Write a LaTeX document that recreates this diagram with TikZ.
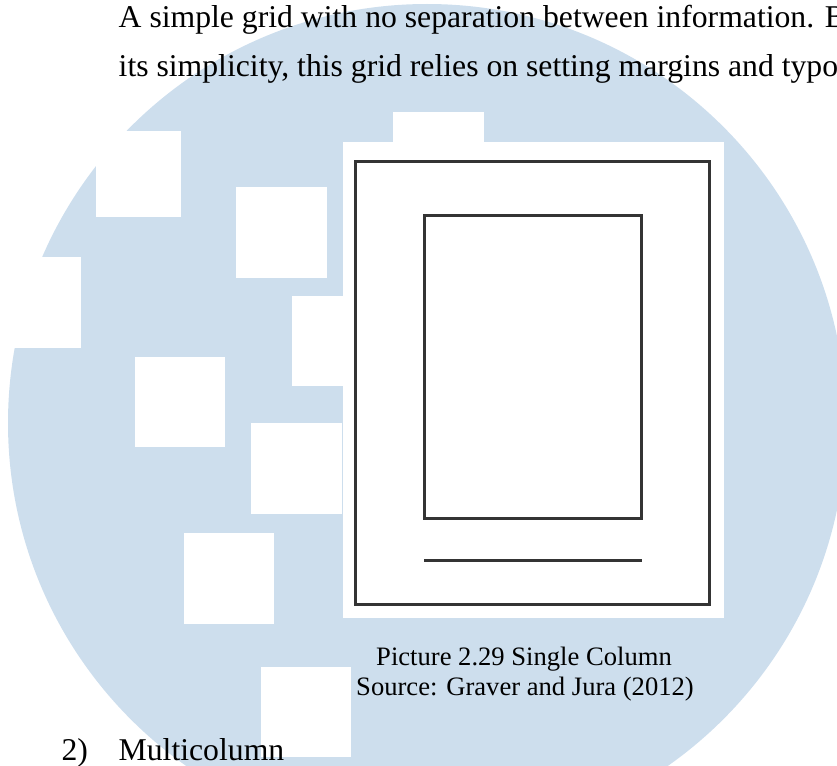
\documentclass[tikz,border=0pt]{standalone}
\usepackage{fontspec}
\setmainfont{Liberation Serif}
\definecolor{wmblue}{RGB}{205,222,237}
\definecolor{ink}{RGB}{52,52,52}
\begin{document}
\begin{tikzpicture}[x=1pt,y=-1pt,
  body/.style={inner sep=0pt, anchor=base west, font=\fontsize{31.7}{38}\selectfont},
  capt/.style={inner sep=0pt, anchor=base, font=\fontsize{26.6}{32}\selectfont},
  gap/.style={fill=white},
  frame/.style={draw=ink, line width=3pt}]
\useasboundingbox (0,0) rectangle (837,765);
\clip (0,0) rectangle (837,765);

% watermark disc
\fill[wmblue] (427,423) circle[radius=419pt];

% white blocks cut out of the disc
\fill[gap] (96,131) rectangle (181,217);
\fill[gap] (236,187) rectangle (327,278);
\fill[gap] (-9,257) rectangle (81,348);
\fill[gap] (292,296) rectangle (383,386);
\fill[gap] (135,357) rectangle (225,447);
\fill[gap] (251,423) rectangle (342,514);
\fill[gap] (393,112) rectangle (484,203);
\fill[gap] (184,533) rectangle (274,624);
\fill[gap] (261,667) rectangle (351,757);

% single-column page sketch
\fill[white] (343,142) rectangle (724,618);
\draw[frame] (355,161) rectangle (709,604);
\draw[frame] (424,215) rectangle (641,518);
\draw[frame] (424,560) -- (642,560);

% running text
\node[body] (line1) at (118.5,28) {A simple grid with no separation between information. B};
\node[body] (line2) at (118.5,77) {its simplicity, this grid relies on setting margins and typo};

% caption
\node[capt] (cap1) at (524,665) {Picture 2.29 Single Column};
\node[capt] (cap2) at (525,695) {Source: Graver and Jura (2012)};

% next list item
\node[body] (num) at (61.4,760) {2)};
\node[body] (item) at (118.5,760) {Multicolumn};
\end{tikzpicture}
\end{document}
